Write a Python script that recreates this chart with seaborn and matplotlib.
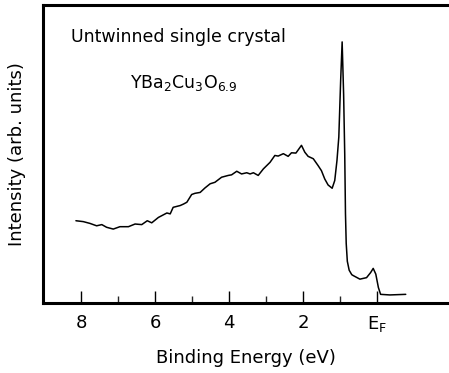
import matplotlib
matplotlib.use("Agg")
import matplotlib.pyplot as plt
import seaborn as sns
import pandas as pd
from matplotlib.ticker import FixedLocator

# Binding energy (eV) and intensity (arb. units)
energy = [8.14, 7.94, 7.76, 7.58, 7.44, 7.31, 7.13, 6.95, 6.72, 6.54, 6.36, 6.21,
          6.09, 5.91, 5.68, 5.59, 5.51, 5.32, 5.23, 5.14, 5.01, 4.92, 4.78, 4.65,
          4.51, 4.38, 4.20, 4.02, 3.93, 3.79, 3.66, 3.52, 3.43, 3.34, 3.21, 3.07,
          2.89, 2.76, 2.67, 2.53, 2.40, 2.31, 2.19, 2.04, 1.95, 1.86, 1.72, 1.59,
          1.50, 1.41, 1.32, 1.21, 1.14, 1.08, 1.03, 0.98, 0.94, 0.90, 0.87, 0.85,
          0.83, 0.80, 0.75, 0.68, 0.64, 0.46, 0.28, 0.17, 0.10, 0.03, -0.04, -0.10,
          -0.35, -0.78]
intensity = [27.6, 27.3, 26.7, 25.9, 26.3, 25.4, 24.8, 25.6, 25.6, 26.5, 26.3, 27.6,
             26.9, 28.7, 30.2, 29.9, 32.1, 32.7, 33.2, 33.8, 36.4, 36.8, 37.1, 38.6,
             40.0, 40.5, 42.2, 42.8, 43.0, 44.2, 43.3, 43.7, 43.3, 43.7, 42.8, 45.0,
             47.2, 49.5, 49.3, 50.1, 49.2, 50.4, 50.3, 52.9, 50.6, 49.2, 48.4, 46.1,
             44.4, 41.6, 39.6, 38.5, 41.1, 47.8, 55.7, 74.7, 87.6, 70.0, 50.0, 30.0,
             20.0, 14.0, 11.0, 9.5, 9.2, 8.0, 8.5, 10.2, 11.6, 9.7, 5.2, 2.9,
             2.7, 2.9]

major_ticks = [8, 6, 4, 2, 0]
major_labels = ["8", "6", "4", "2", "E$_\\mathrm{F}$"]
minor_ticks = [7, 5, 3, 1]

df = pd.DataFrame({"energy": energy, "intensity": intensity})

sns.set_theme(style="ticks")
plt.rcParams["font.family"] = ["DejaVu Sans"]
plt.rcParams["mathtext.default"] = "regular"

fig = plt.figure(figsize=(4.49, 3.73), dpi=100)
ax = fig.add_axes([0.0958, 0.1877, 0.9042, 0.799])

sns.lineplot(data=df, x="energy", y="intensity", ax=ax, color="black",
             linewidth=1.1, sort=False)

ax.set_xlim(9.03, -1.95)
ax.set_ylim(0, 100)
ax.xaxis.set_major_locator(FixedLocator(major_ticks))
ax.set_xticklabels(major_labels)
ax.xaxis.set_minor_locator(FixedLocator(minor_ticks))
ax.set_yticks([])
ax.tick_params(axis="x", which="major", direction="in", length=9, width=1.0,
               labelsize=13, pad=8, colors="black")
ax.tick_params(axis="x", which="minor", direction="in", length=5, width=1.0)

for s in ["left", "bottom", "top"]:
    ax.spines[s].set_linewidth(2.2)
    ax.spines[s].set_color("black")
ax.spines["right"].set_visible(False)

ax.set_xlabel("Binding Energy (eV)", fontsize=13, labelpad=11, color="black")
ax.set_ylabel("Intensity (arb. units)", fontsize=13, labelpad=12, color="black")

ax.text(0.07, 0.875, "Untwinned single crystal", transform=ax.transAxes,
        fontsize=12.5, color="black", va="baseline")
ax.text(0.215, 0.72, "YBa$_2$Cu$_3$O$_{6.9}$", transform=ax.transAxes,
        fontsize=12.5, color="black", va="baseline")

fig.savefig("out.png", dpi=100)
